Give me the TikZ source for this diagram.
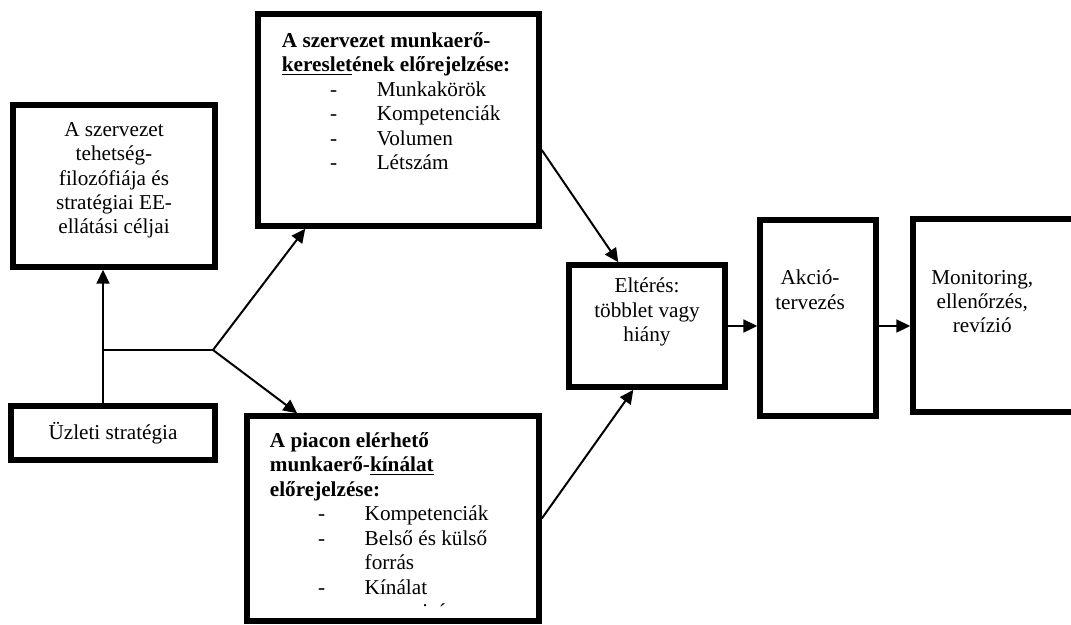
\documentclass[tikz,border=0pt]{standalone}
\usepackage{fontspec}
\setmainfont{Liberation Serif}
\usetikzlibrary{positioning,arrows.meta}
\tikzset{
    boxframe/.style={rectangle, draw, line width=3.2pt, inner sep=0pt},
    boxtext/.style={align=center, inner sep=0pt, font=\fontsize{12.3}{14.2}\selectfont},
    listtext/.style={align=left, inner sep=0pt, font=\fontsize{12.3}{14.2}\selectfont},
    arrow/.style={-{Triangle[length=8pt, width=7.5pt]}, line width=1.15pt},
    branch/.style={line width=0.85pt}
}
\newcommand{\itm}[1]{\makebox[55pt][l]{\hspace*{28pt}-}#1}
\newcommand{\cont}[1]{\makebox[55pt][l]{}#1}

\begin{document}
\begin{tikzpicture}[x=0.58pt, y=-0.58pt]
\useasboundingbox (0,0) rectangle (1071,624);
\clip (0,0) rectangle (1071,624);

% boxes
\node[boxframe, minimum width=117.2pt, minimum height=94pt] (filo) at (114,186) {};
\node[boxframe, boxtext, minimum width=118.3pt, minimum height=31.3pt] (uzleti) at (113,433) {Üzleti stratégia};
\node[boxframe, minimum width=163pt, minimum height=123pt] (kereslet) at (398.5,120) {};
\node[boxframe, minimum width=169.4pt, minimum height=118.9pt] (kinalat) at (393,518.5) {};
\node[boxframe, minimum width=90.5pt, minimum height=70.8pt] (elteres) at (647,326) {};
\node[boxframe, minimum width=67.3pt, minimum height=113.7pt] (akcio) at (818,318) {};
\node[boxframe, minimum width=108.5pt, minimum height=112pt] (monit) at (1006.5,315.5) {};

% texts
\node[boxtext, below=11.3pt of filo.north] (filotxt) {A szervezet\\tehetség-\\filozófiája és\\stratégiai EE-\\ellátási céljai};
\node[listtext, below right=12pt and 15.3pt of kereslet.north west] (keresettxt) {%
    \textbf{A szervezet munkaerő-}\\
    \textbf{\underline{kereslet}ének előrejelzése:}\\
    \itm{Munkakörök}\\
    \itm{Kompetenciák}\\
    \itm{Volumen}\\
    \itm{Létszám}};
\begin{scope}
\clip (kinalat.north west) rectangle ([yshift=9.8pt]kinalat.south east);
\node[listtext, below right=10.8pt and 14.7pt of kinalat.north west] (kinalattxt) {%
    \textbf{A piacon elérhető}\\
    \textbf{munkaerő-\underline{kínálat}}\\
    \textbf{előrejelzése:}\\
    \itm{Kompetenciák}\\
    \itm{Belső és külső}\\
    \cont{forrás}\\
    \itm{Kínálat}\\
    \cont{mennyisége}};
\end{scope}
\node[boxtext, below=9pt of elteres.north] (elterestxt) {Eltérés:\\többlet vagy\\hiány};
\node[boxtext, below=30.5pt of akcio.north, xshift=-4.6pt] (akciotxt) {Akció-\\tervezés};
\node[boxtext, below=31pt of monit.north west, xshift=41.8pt] (monittxt) {Monitoring,\\ellenőrzés,\\revízió};

% connectors
\coordinate (stem) at (103,350);
\coordinate (fork) at (213,350);
\draw[arrow] (stem |- uzleti.north) -- (stem |- filo.south);
\draw[branch] (stem) -- (fork);
\draw[arrow] (fork) -- ([xshift=29pt]kereslet.south west);
\draw[arrow] (fork) -- ([xshift=30.7pt]kinalat.north west);
\draw[arrow] ([yshift=-17.4pt]kereslet.east) -- ([xshift=30.2pt]elteres.north west);
\draw[arrow] (kinalat.east) -- ([xshift=38.9pt]elteres.south west);
\draw[arrow] (elteres.east) -- (elteres.east -| akcio.west);
\draw[arrow] (elteres.east -| akcio.east) -- (elteres.east -| monit.west);

\end{tikzpicture}
\end{document}
